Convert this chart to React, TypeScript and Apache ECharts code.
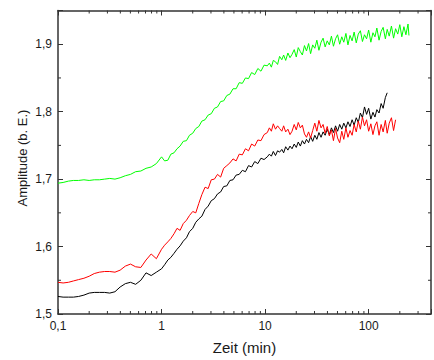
import React, { useEffect, useRef } from "react";
import * as echarts from "echarts";

// Time grid (min), shared by all three curves
const times = [
  0.1, 0.112, 0.126, 0.141, 0.158, 0.178, 0.2, 0.224, 0.251, 0.282, 0.316, 0.355, 0.398, 0.447, 0.501, 0.562, 0.631, 0.708, 0.794, 0.891,
  1, 1.07, 1.15, 1.23, 1.32, 1.41, 1.51, 1.62, 1.74, 1.86, 2.0, 2.14, 2.29, 2.45, 2.63, 2.82, 3.02, 3.24, 3.47, 3.72, 3.98, 4.27, 4.57, 4.9, 5.25, 5.62, 6.03, 6.46, 6.92, 7.41, 7.94, 8.51, 9.12, 9.77,
  10.5, 11.0, 11.5, 12.0, 12.6, 13.2, 13.8, 14.5, 15.1, 15.8, 16.6, 17.4, 18.2, 19.1, 20.0, 20.9, 21.9, 22.9, 24.0, 25.1,
  26.3, 27.5, 28.8, 30.2, 31.6, 33.1, 34.7, 36.3, 38.0, 39.8, 41.7, 43.7, 45.7, 47.9, 50.1, 52.5, 55.0, 57.5, 60.3, 63.1,
  66.1, 69.2, 72.4, 75.9, 79.4, 83.2, 87.1, 91.2, 95.5, 100, 105, 110, 115, 120, 126, 132, 138, 145, 151, 158,
  166, 174, 182, 191, 200, 209, 219, 229, 240, 245,
];

const greenValues = [
  1.694, 1.695, 1.697, 1.698, 1.698, 1.699, 1.698, 1.699, 1.699, 1.700, 1.701, 1.700, 1.702, 1.705, 1.707, 1.711, 1.712, 1.716, 1.718, 1.723,
  1.733, 1.727, 1.728, 1.737, 1.739, 1.745, 1.749, 1.756, 1.757, 1.765, 1.768, 1.775, 1.778, 1.786, 1.788, 1.795, 1.797, 1.805, 1.807, 1.815,
  1.816, 1.824, 1.826, 1.834, 1.834, 1.843, 1.842, 1.850, 1.849, 1.858, 1.855, 1.864, 1.860, 1.869,
  1.868, 1.872, 1.866, 1.876, 1.874, 1.870, 1.882, 1.877, 1.884, 1.876, 1.887, 1.880, 1.885, 1.892, 1.881, 1.895, 1.889, 1.884, 1.898, 1.890,
  1.901, 1.886, 1.899, 1.894, 1.906, 1.891, 1.903, 1.909, 1.896, 1.905, 1.899, 1.912, 1.897, 1.908, 1.914, 1.900, 1.911, 1.903, 1.916, 1.899,
  1.913, 1.905, 1.918, 1.902, 1.915, 1.920, 1.904, 1.914, 1.908, 1.921, 1.903, 1.917, 1.911, 1.924, 1.906, 1.919, 1.925, 1.908, 1.922, 1.912,
  1.927, 1.909, 1.923, 1.915, 1.929, 1.911, 1.926, 1.914, 1.930, 1.913,
];

const redValues = [
  1.547, 1.546, 1.547, 1.549, 1.551, 1.553, 1.556, 1.560, 1.562, 1.563, 1.563, 1.562, 1.565, 1.571, 1.574, 1.570, 1.569, 1.580, 1.589, 1.582,
  1.596, 1.602, 1.607, 1.612, 1.619, 1.627, 1.624, 1.634, 1.639, 1.646, 1.652, 1.650, 1.664, 1.677, 1.688, 1.686, 1.699, 1.700, 1.707, 1.703,
  1.716, 1.720, 1.724, 1.730, 1.727, 1.737, 1.736, 1.745, 1.742, 1.752, 1.749, 1.758, 1.757, 1.766,
  1.769, 1.776, 1.771, 1.782, 1.774, 1.779, 1.775, 1.771, 1.779, 1.770, 1.774, 1.766, 1.771, 1.781, 1.773, 1.784, 1.776, 1.780, 1.767, 1.762,
  1.770, 1.761, 1.772, 1.783, 1.771, 1.787, 1.776, 1.781, 1.768, 1.778, 1.764, 1.773, 1.757, 1.775, 1.761, 1.754, 1.771, 1.759, 1.776, 1.762,
  1.772, 1.765, 1.781, 1.770, 1.786, 1.774, 1.792, 1.779, 1.788, 1.771, 1.782, 1.766, 1.779, 1.785, 1.765, 1.781, 1.770, 1.787, 1.768, 1.783,
  1.791, 1.772, 1.788,
];

const blackValues = [
  1.526, 1.525, 1.525, 1.525, 1.526, 1.528, 1.531, 1.532, 1.532, 1.532, 1.531, 1.533, 1.540, 1.545, 1.547, 1.544, 1.550, 1.561, 1.557, 1.562,
  1.567, 1.573, 1.580, 1.584, 1.590, 1.596, 1.601, 1.608, 1.613, 1.622, 1.627, 1.636, 1.641, 1.645, 1.655, 1.660, 1.668, 1.671, 1.678, 1.681,
  1.689, 1.690, 1.698, 1.699, 1.706, 1.707, 1.713, 1.711, 1.720, 1.718, 1.726, 1.723, 1.731, 1.729,
  1.733, 1.737, 1.734, 1.741, 1.735, 1.742, 1.740, 1.744, 1.739, 1.748, 1.743, 1.749, 1.745, 1.752, 1.747, 1.755, 1.749, 1.757, 1.752, 1.759,
  1.754, 1.763, 1.756, 1.765, 1.759, 1.769, 1.762, 1.770, 1.765, 1.774, 1.766, 1.776, 1.769, 1.779, 1.771, 1.781, 1.774, 1.783, 1.776, 1.785,
  1.778, 1.788, 1.780, 1.791, 1.784, 1.798, 1.791, 1.807, 1.796, 1.805, 1.789, 1.799, 1.792, 1.803, 1.798, 1.812, 1.805, 1.821, 1.828,
];

const xMinorTicks = [0.2, 0.3, 0.4, 0.5, 0.6, 0.7, 0.8, 0.9, 2, 3, 4, 5, 6, 7, 8, 9, 20, 30, 40, 50, 60, 70, 80, 90, 200, 300];
const yMinorTicks = [1.55, 1.65, 1.75, 1.85];

const X_MIN = 0.1;
const X_MAX = 400;
const Y_MIN = 1.5;
const Y_MAX = 1.95;
const Y_STEP = 0.1;

const xTitle = "Zeit (min)";
const yTitle = "Amplitude (b. E.)";

const AXIS_COLOR = "#333333";
const TEXT_COLOR = "#1a1a1a";
const FONT = "'Liberation Sans', Arial, Helvetica, sans-serif";

const pairs = (vals: number[]) => vals.map((v, i) => [times[i], v]);

export default function App() {
  const ref = useRef<HTMLDivElement>(null);

  useEffect(() => {
    if (!ref.current) return;
    const chart = echarts.init(ref.current, null, { renderer: "svg" });

    const axisLine = { show: true, lineStyle: { color: AXIS_COLOR, width: 1.5 } };
    const majorTick = { show: true, inside: true, length: 5, lineStyle: { color: AXIS_COLOR, width: 1 } };

    const xFormatter = (v: number) => {
      const e = Math.log10(v);
      if (Math.abs(e - Math.round(e)) > 1e-6) return "";
      return String(parseFloat(v.toPrecision(6))).replace(".", ",");
    };
    const yFormatter = (v: number) => (v > 1.9 + 1e-9 ? "" : v.toFixed(1).replace(".", ","));

    chart.setOption({
      animation: false,
      backgroundColor: "#ffffff",
      grid: { left: 58, right: -4, top: 10.5, bottom: 43, containLabel: false },
      graphic: [
        {
          type: "text",
          x: 22,
          y: 158,
          rotation: Math.PI / 2,
          style: {
            text: yTitle,
            fill: TEXT_COLOR,
            fontFamily: FONT,
            fontSize: 13,
            align: "center",
            verticalAlign: "middle",
          },
        },
      ],
      xAxis: [
        {
          type: "log",
          logBase: 10,
          min: X_MIN,
          max: X_MAX,
          position: "bottom",
          axisLine,
          axisTick: majorTick,
          splitLine: { show: false },
          axisLabel: { color: TEXT_COLOR, fontFamily: FONT, fontSize: 12, margin: 6, formatter: xFormatter },
          name: xTitle,
          nameLocation: "middle",
          nameGap: 26,
          nameTextStyle: { color: TEXT_COLOR, fontFamily: FONT, fontSize: 15 },
        },
        {
          type: "log",
          logBase: 10,
          min: X_MIN,
          max: X_MAX,
          position: "top",
          axisLine,
          axisTick: majorTick,
          splitLine: { show: false },
          axisLabel: { show: false },
        },
      ],
      yAxis: [
        {
          type: "value",
          min: Y_MIN,
          max: Y_MAX,
          interval: Y_STEP,
          position: "left",
          axisLine,
          axisTick: majorTick,
          splitLine: { show: false },
          axisLabel: { color: TEXT_COLOR, fontFamily: FONT, fontSize: 12, margin: 6, formatter: yFormatter },
        },
        {
          type: "value",
          min: Y_MIN,
          max: Y_MAX,
          interval: Y_STEP,
          position: "right",
          axisLine,
          axisTick: majorTick,
          splitLine: { show: false },
          axisLabel: { show: false },
        },
      ],
      series: [
        {
          type: "line",
          name: "black",
          data: pairs(blackValues),
          showSymbol: false,
          symbol: "none",
          lineStyle: { color: "#000000", width: 1 },
          itemStyle: { color: "#000000" },
        },
        {
          type: "line",
          name: "red",
          data: pairs(redValues),
          showSymbol: false,
          symbol: "none",
          lineStyle: { color: "#ff0000", width: 1 },
          itemStyle: { color: "#ff0000" },
        },
        {
          type: "line",
          name: "green",
          data: pairs(greenValues),
          showSymbol: false,
          symbol: "none",
          lineStyle: { color: "#00ff00", width: 1 },
          itemStyle: { color: "#00ff00" },
        },
        {
          type: "custom",
          name: "xMinor",
          silent: true,
          data: xMinorTicks.map((t) => [t, Y_MIN]),
          renderItem: (params: any, api: any) => {
            const p = api.coord([api.value(0), api.value(1)]);
            const cs = params.coordSys;
            const style = { stroke: AXIS_COLOR, lineWidth: 1 };
            return {
              type: "group",
              children: [
                { type: "line", shape: { x1: p[0], y1: cs.y + cs.height, x2: p[0], y2: cs.y + cs.height - 3 }, style },
                { type: "line", shape: { x1: p[0], y1: cs.y, x2: p[0], y2: cs.y + 3 }, style },
              ],
            };
          },
        },
        {
          type: "custom",
          name: "yMinor",
          silent: true,
          data: yMinorTicks.map((v) => [X_MIN, v]),
          renderItem: (params: any, api: any) => {
            const p = api.coord([api.value(0), api.value(1)]);
            const cs = params.coordSys;
            const style = { stroke: AXIS_COLOR, lineWidth: 1 };
            return {
              type: "group",
              children: [
                { type: "line", shape: { x1: cs.x, y1: p[1], x2: cs.x + 3, y2: p[1] }, style },
                { type: "line", shape: { x1: cs.x + cs.width, y1: p[1], x2: cs.x + cs.width - 3, y2: p[1] }, style },
              ],
            };
          },
        },
      ],
    });

    return () => chart.dispose();
  }, []);

  return (
    <div
      ref={ref}
      style={{ position: "fixed", left: 0, top: 0, width: 434, height: 360, background: "#ffffff" }}
    />
  );
}
